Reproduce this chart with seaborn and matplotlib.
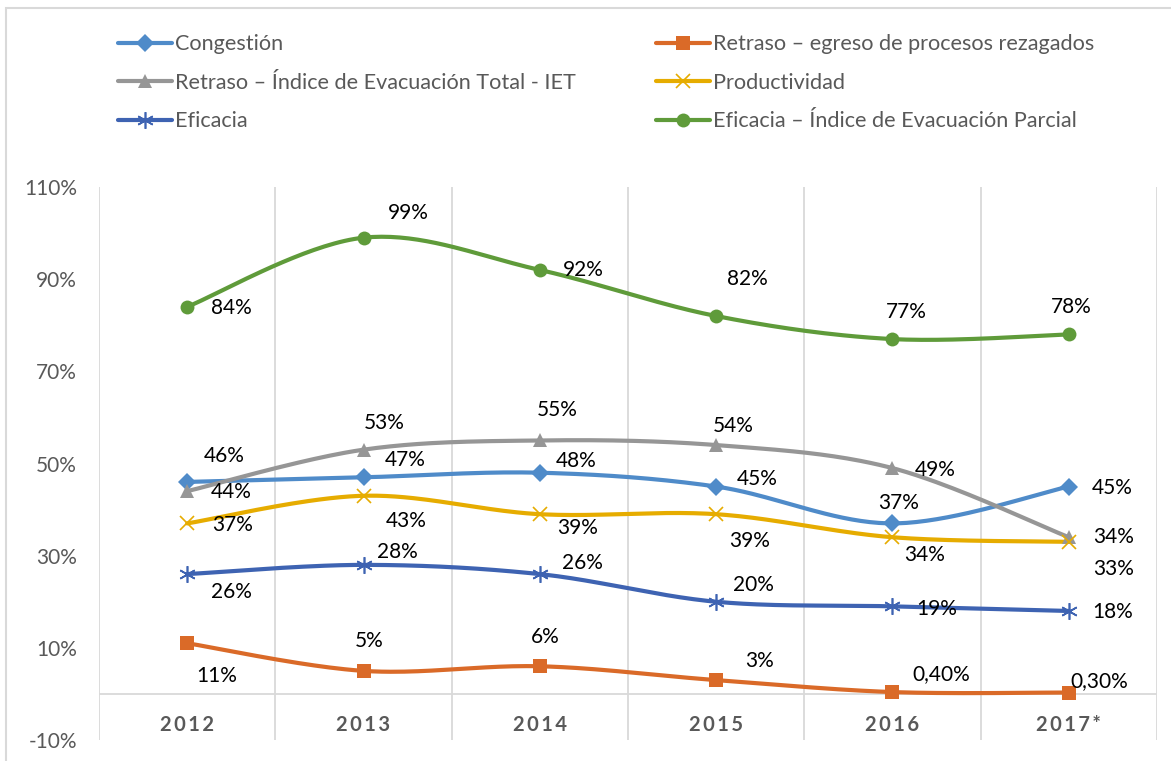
import numpy as np
import pandas as pd
import matplotlib
matplotlib.use("Agg")
import matplotlib.pyplot as plt
from matplotlib.lines import Line2D
from matplotlib.patches import Rectangle
import seaborn as sns

years = ["2012", "2013", "2014", "2015", "2016", "2017*"]
congestion = [46, 47, 48, 45, 37, 45]
retraso_egreso = [11, 5, 6, 3, 0.4, 0.3]
retraso_iet = [44, 53, 55, 54, 49, 34]
productividad = [37, 43, 39, 39, 34, 33]
eficacia = [26, 28, 26, 20, 19, 18]
eficacia_iep = [84, 99, 92, 82, 77, 78]

names = ["Congestión", "Retraso – egreso de procesos rezagados",
         "Retraso – Índice de Evacuación Total - IET", "Productividad",
         "Eficacia", "Eficacia – Índice de Evacuación Parcial"]
yticks = [-10, 10, 30, 50, 70, 90, 110]

sns.set_theme(style="white")
plt.rcParams['font.family'] = ['Lato', 'DejaVu Sans']

series = [congestion, retraso_egreso, retraso_iet, productividad, eficacia, eficacia_iep]
colors = ["#4F8BC9", "#DA6A28", "#969696", "#E6AC00", "#3E63B2", "#5F9B3A"]
markers = ["D", "s", "^", "x", (6, 2, 0), "o"]
msizes = [9, 10, 10, 10, 12, 10]
# label offsets in pixels (dx, dy up)
offsets = [
    [(37, 26), (42, 17), (36, 12), (41, 8), (6, 20), (43, -1)],
    [(30, -33), (6, 30), (5, 29), (43, 19), (49, 18), (30, 11)],
    [(44, -1), (21, 27), (17, 30), (17, 19), (43, -2), (45, 0)],
    [(45, -2), (43, -25), (38, -14), (33, -27), (32, -18), (45, -27)],
    [(44, -18), (34, 13), (43, 11), (37, 17), (44, -3), (44, -1)],
    [(44, -1), (45, 25), (43, 0), (31, 37), (14, 27), (2, 27)],
]

W, H = 1171, 761
fig = plt.figure(figsize=(W / 100, H / 100), dpi=100)
ax = fig.add_axes([99 / W, 1 - 740 / H, (1157 - 99) / W, (740 - 187) / H])


def smooth(xs, ys, n=40):
    # Excel-like smoothed line: cubic Bezier through points (Catmull-Rom control points)
    P = np.column_stack([xs, ys]).astype(float)
    out = []
    for i in range(len(P) - 1):
        p0 = P[i - 1] if i > 0 else P[i]
        p1, p2 = P[i], P[i + 1]
        p3 = P[i + 2] if i + 2 < len(P) else P[i + 1]
        c1 = p1 + (p2 - p0) / 6
        c2 = p2 - (p3 - p1) / 6
        t = np.linspace(0, 1, n)[:, None]
        seg = (1 - t) ** 3 * p1 + 3 * (1 - t) ** 2 * t * c1 + 3 * (1 - t) * t ** 2 * c2 + t ** 3 * p2
        out.append(seg if i == 0 else seg[1:])
    return np.vstack(out)

x = np.arange(len(years))

# gridlines
for b in np.arange(-0.5, len(years), 1.0):
    ax.axvline(b, color="#D9D9D9", lw=1.3, zorder=0)
ax.axhline(0, color="#D9D9D9", lw=1.3, zorder=0)

handles = []
for vals, name, col, mk, ms, offs in zip(series, names, colors, markers, msizes, offsets):
    curve = smooth(x, vals)
    df = pd.DataFrame({"x": curve[:, 0], "y": curve[:, 1]})
    sns.lineplot(data=df, x="x", y="y", ax=ax, color=col, lw=3, sort=False, zorder=2)
    mew = 1.2 if mk in ("x",) or isinstance(mk, tuple) else 0
    ax.plot(x, vals, ls="none", marker=mk, ms=ms, color=col, mec=col, mew=mew, zorder=3)
    for xi, v, (dx, dy) in zip(x, vals, offs):
        txt = (f"{v:.2f}%".replace(".", ",")) if v < 1 else f"{v:.0f}%"
        ax.annotate(txt, (xi, v), xytext=(dx, dy), textcoords="offset pixels",
                    ha="center", va="center", fontsize=15, color="black", zorder=4)
    handles.append(Line2D([0], [0], color=col, lw=3, marker=mk, ms=ms, mec=col, mew=mew))

ax.set_xlim(-0.5, len(years) - 0.5)
ax.set_ylim(-10, 110)
ax.set_yticks(yticks)
ax.set_yticklabels([f"{t}%" for t in yticks], fontsize=15, color="#595959")
ax.tick_params(axis="y", length=0, pad=16)
ax.set_xticks([])
ax.set_xlabel("")
ax.set_ylabel("")
for s in ax.spines.values():
    s.set_visible(False)

for xi, yr in zip(x, years):
    ax.text(xi, -6.8, "\u2009".join(yr), ha="center", va="center", fontsize=14.5,
            fontweight="bold", color="#595959")

order = [0, 2, 4, 1, 3, 5]
leg = fig.legend([handles[i] for i in order], [names[i] for i in order], ncol=2,
                 loc="upper left", bbox_to_anchor=(98 / W, 1 - 15 / H), frameon=False,
                 fontsize=15.6, handlelength=2.5, handletextpad=0.14, columnspacing=3.7,
                 labelspacing=0.85, labelcolor="#595959")

fig.add_artist(Rectangle((6 / W, -0.05), 1.2, 1 - 8 / H + 0.05, transform=fig.transFigure,
                         fill=False, edgecolor="#D9D9D9", lw=1.5))

fig.savefig("out.png", dpi=100)
